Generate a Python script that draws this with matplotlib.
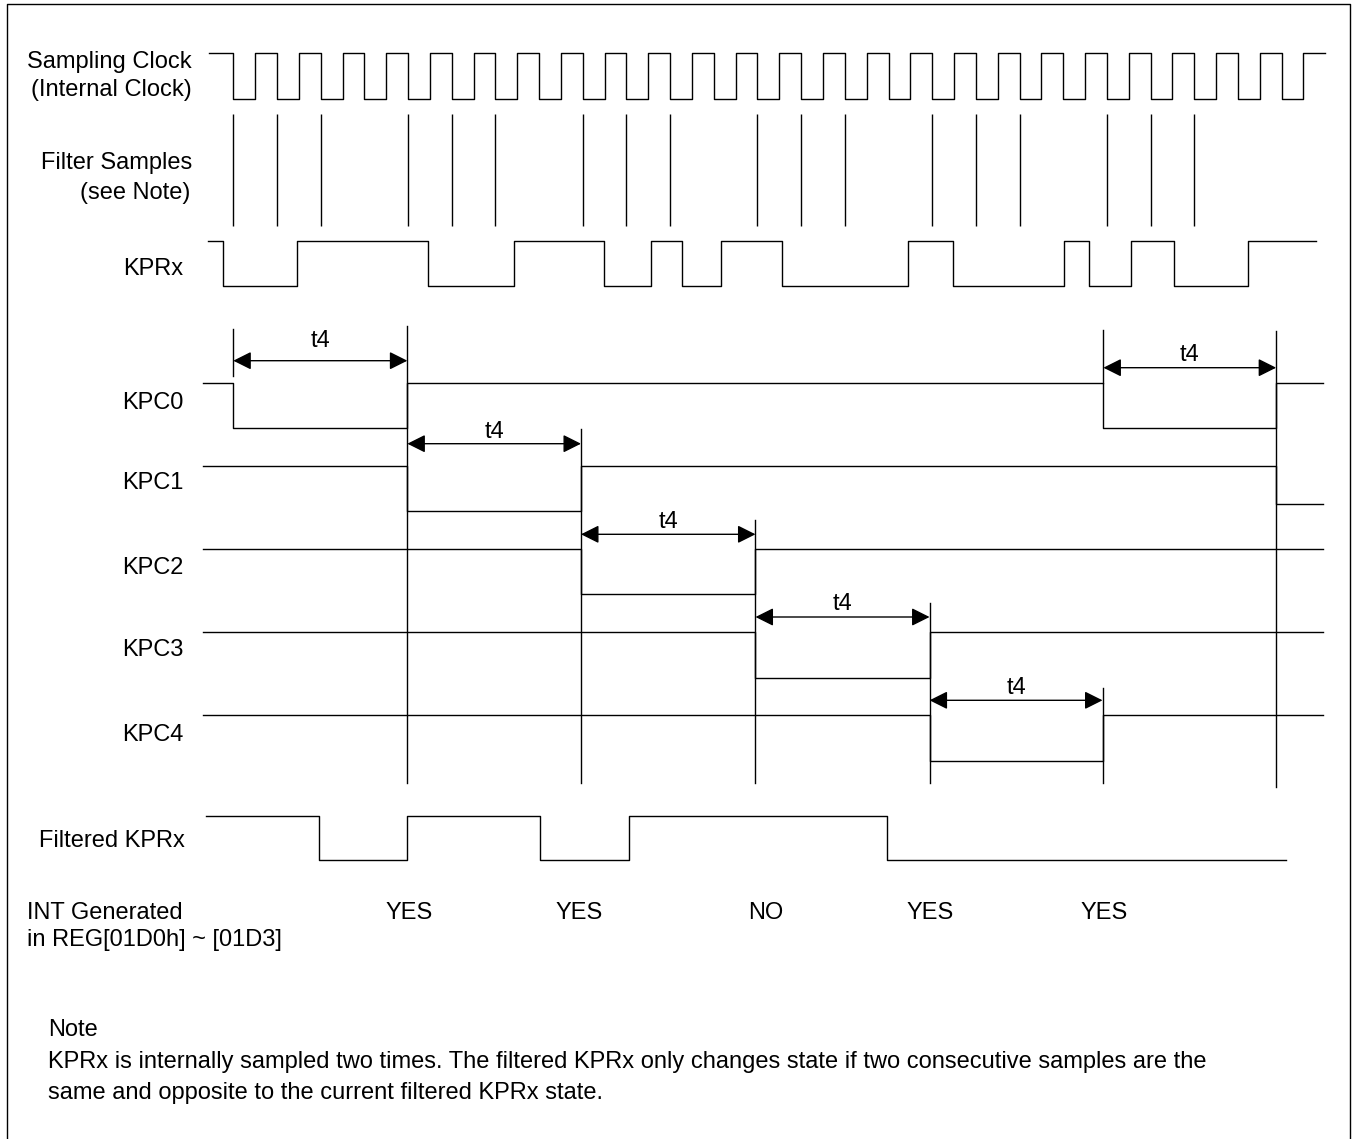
import numpy as np
import matplotlib.pyplot as plt

plt.rcParams['font.family'] = ['Liberation Sans', 'DejaVu Sans']

# --- time axis: one unit = half a sampling clock period ---
# pixel x = X0 + t * DX
X0 = 233.3
DX = 21.84
W, H = 1356, 1139

# --- signals (edge times in half-clock units) ---
clock_start, clock_end = -1.12, 50.0
clock_edges = list(range(50))          # square clock, one edge per half period
clock_first = 1

sample_times = [0, 2, 4, 8, 10, 12, 16, 18, 20, 24, 26, 28, 32, 34, 36, 40, 42, 44]

kprx_start, kprx_end = -1.15, 49.58
kprx_edges = [-0.48, 2.93, 8.93, 12.84, 16.99, 19.14, 20.55, 22.33,
              25.13, 30.87, 32.97, 38.02, 39.2, 41.1, 43.05, 46.44]
kprx_first = 1

kpc_names = ['KPC0', 'KPC1', 'KPC2', 'KPC3', 'KPC4']
kpc_start, kpc_end = -1.39, 49.89
kpc_edges = [
    [0.0, 7.97, 39.83, 47.75],
    [7.97, 15.92, 47.75],
    [15.92, 23.91],
    [23.91, 31.88],
    [31.88, 39.80],
]
kpc_levels = [
    [1, 0, 1, 0, 1],
    [1, 0, 1, 0.16],
    [1, 0, 1],
    [1, 0, 1],
    [1, 0, 1],
]

filt_start, filt_end = -1.25, 48.2
filt_edges = [3.93, 7.96, 14.04, 18.1, 29.93]
filt_first = 1

# t4 intervals
t4_start = [0.0, 7.97, 15.92, 23.91, 31.88, 39.84]
t4_end = [7.97, 15.92, 23.91, 31.88, 39.80, 47.75]

int_times = [8.04, 15.83, 24.39, 31.9, 39.86]
int_labels = ['YES', 'YES', 'NO', 'YES', 'YES']

# --- layout (pixel y positions) ---
clock_y = (99.3, 53.3)          # low, high
sample_y = (114, 225.7)
kprx_y = (286, 241.3)
kpc_y = [(428.3, 383.3), (511.3, 466), (594.3, 549.3), (678.3, 632.3), (761, 715.3)]
filt_y = (860.3, 816)
t4_arrow_y = [360.7, 443.7, 534.3, 617, 700.3, 367.7]
t4_label_y = [340.7, 431.7, 521.7, 604.3, 687.7, 355]
guide_t = [0.0, 7.97, 15.92, 23.91, 31.88, 39.80, 39.84, 47.75]
guide_top = [329.3, 326, 429, 520, 603.3, 688.3, 330, 331]
guide_bot = [375.7, 783, 783, 783, 783, 783, 383.3, 787]

FS = 17
LW = 1.0


def px(x):
    return (x - X0) / DX


def step(start, edges, end, levels, y_lo, y_hi):
    xs, ys = [start], []
    for e in edges:
        xs += [e, e]
    xs.append(end)
    for lev in levels:
        y = y_lo + lev * (y_hi - y_lo)
        ys += [y, y]
    return xs, ys


def alternating(first, n):
    return [(first + i) % 2 if first == 0 else 1 - (i % 2) for i in range(n)]


fig = plt.figure(figsize=(W / 100, H / 100), dpi=100)
ax = fig.add_axes([0, 0, 1, 1])
ax.set_xlim(px(0), px(W))
ax.set_ylim(H, 0)
ax.axis('off')

# frame
ax.plot([px(7.3), px(7.3), px(1350), px(1350)], [H + 5, 4.3, 4.3, H + 5], color='black', lw=LW)

# sampling clock
xs, ys = step(clock_start, clock_edges, clock_end,
              alternating(clock_first, len(clock_edges) + 1), *clock_y)
ax.plot(xs, ys, color='black', lw=LW)

# filter samples
ax.vlines(sample_times, sample_y[0], sample_y[1], color='black', lw=LW)

# KPRx
xs, ys = step(kprx_start, kprx_edges, kprx_end,
              alternating(kprx_first, len(kprx_edges) + 1), *kprx_y)
ax.plot(xs, ys, color='black', lw=LW)

# KPC0..4
for edges, levels, (ylo, yhi) in zip(kpc_edges, kpc_levels, kpc_y):
    xs, ys = step(kpc_start, edges, kpc_end, levels, ylo, yhi)
    ax.plot(xs, ys, color='black', lw=LW)

# guides
for t, y0, y1 in zip(guide_t, guide_top, guide_bot):
    ax.plot([t, t], [y0, y1], color='black', lw=LW)

# t4 arrows
for a, b, ya, yl in zip(t4_start, t4_end, t4_arrow_y, t4_label_y):
    ax.annotate('', xy=(b, ya), xytext=(a, ya),
                arrowprops=dict(arrowstyle='<|-|>,head_length=1.1,head_width=0.55',
                                mutation_scale=10, color='black', lw=LW,
                                shrinkA=0, shrinkB=0))
    ax.text((a + b) / 2, yl, 't4', ha='center', va='center', fontsize=FS)

# filtered KPRx
xs, ys = step(filt_start, filt_edges, filt_end,
              alternating(filt_first, len(filt_edges) + 1), *filt_y)
ax.plot(xs, ys, color='black', lw=LW)

# INT generated
for t, lab in zip(int_times, int_labels):
    ax.text(t, 913, lab, ha='center', va='center', fontsize=FS)

# row labels
ax.text(px(192), 62, 'Sampling Clock', ha='right', va='center', fontsize=FS)
ax.text(px(192), 90, '(Internal Clock)', ha='right', va='center', fontsize=FS)
ax.text(px(192), 163, 'Filter Samples', ha='right', va='center', fontsize=FS)
ax.text(px(190), 193, '(see Note)', ha='right', va='center', fontsize=FS)
ax.text(px(183), 269, 'KPRx', ha='right', va='center', fontsize=FS)
for name, yc in zip(kpc_names, [402.7, 483.3, 568.3, 650, 735]):
    ax.text(px(183), yc, name, ha='right', va='center', fontsize=FS)
ax.text(px(39.3), 840.7, 'Filtered KPRx', ha='left', va='center', fontsize=FS)
ax.text(px(27.3), 913.3, 'INT Generated', ha='left', va='center', fontsize=FS)
ax.text(px(27.3), 940, 'in REG[01D0h] ~ [01D3]', ha='left', va='center', fontsize=FS)

# note
ax.text(px(48.3), 1030, 'Note', ha='left', va='center', fontsize=FS)
ax.text(px(48.3), 1061.7, 'KPRx is internally sampled two times. The filtered KPRx only changes '
        'state if two consecutive samples are the', ha='left', va='center', fontsize=FS)
ax.text(px(48.3), 1093.3, 'same and opposite to the current filtered KPRx state.',
        ha='left', va='center', fontsize=FS)

fig.savefig('out.png', dpi=100)
